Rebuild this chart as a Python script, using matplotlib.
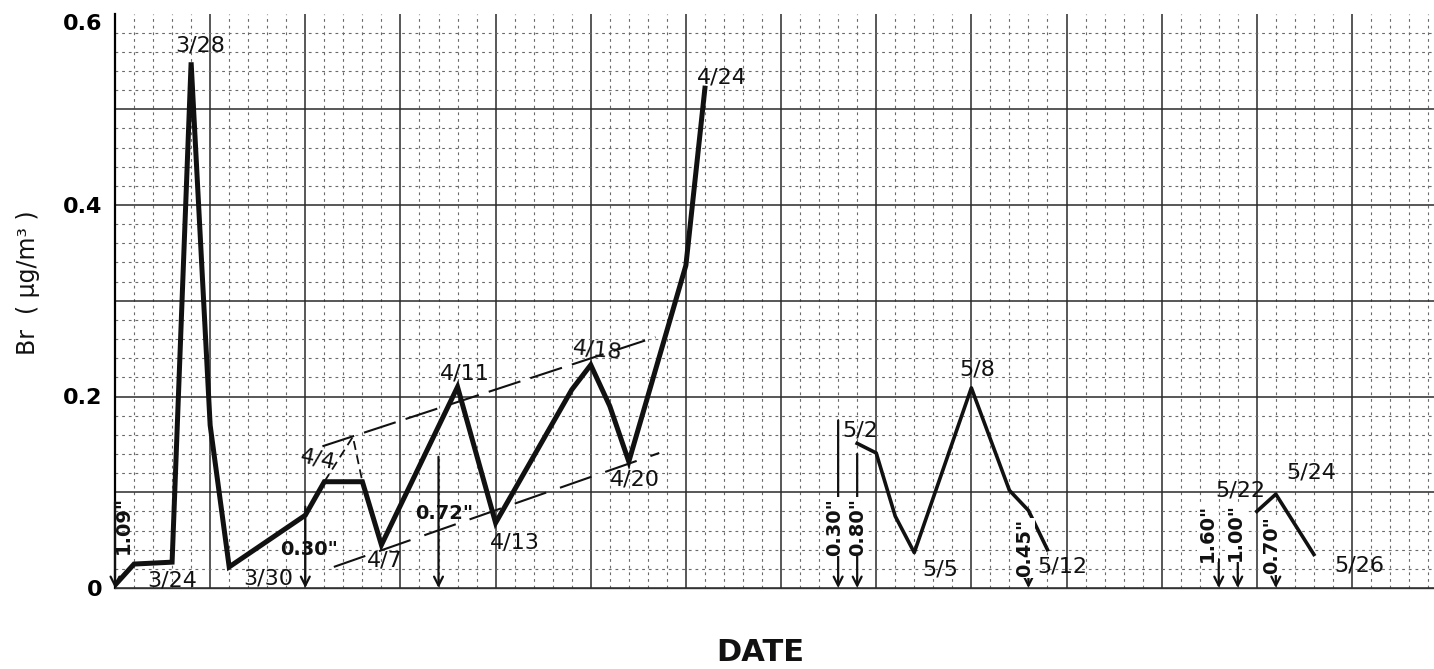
import datetime as dt
import numpy as np
import matplotlib
matplotlib.use("Agg")
import matplotlib.pyplot as plt

# Br concentration (ug/m3), three sampling runs
run1_dates = ["3/24", "3/25", "3/27", "3/28", "3/29", "3/30", "4/3", "4/4", "4/6", "4/7",
              "4/11", "4/13", "4/17", "4/18", "4/19", "4/20", "4/23", "4/24"]
run1_br = [0.003, 0.025, 0.027, 0.549, 0.170, 0.022, 0.076, 0.111, 0.111, 0.045,
           0.210, 0.068, 0.207, 0.233, 0.190, 0.132, 0.337, 0.522]

run2_dates = ["5/2", "5/3", "5/4", "5/5", "5/8", "5/10", "5/11", "5/12"]
run2_br = [0.151, 0.141, 0.075, 0.037, 0.209, 0.102, 0.081, 0.040]

run3_dates = ["5/23", "5/24", "5/26"]
run3_br = [0.080, 0.098, 0.035]

# rainfall events (inches), shown as arrows on the date axis
rain_dates = ["3/24", "4/3", "4/10", "5/1", "5/2", "5/11", "5/21", "5/22", "5/24"]
rain_inches = ["1.09", "0.30", "0.72", "0.30", "0.80", "0.45", "1.60", "1.00", "0.70"]

# dashed envelope lines (days after 3/24, Br)
upper_env_days = [10.9, 28.4]
upper_env_br = [0.148, 0.262]
lower_env_days = [11.5, 28.6]
lower_env_br = [0.022, 0.141]
guess_peak_days = [11.0, 12.5, 13.0]
guess_peak_br = [0.111, 0.158, 0.111]

date_labels = ["3/28", "3/24", "3/30", "4/4", "4/7", "4/11", "4/13", "4/18", "4/20", "4/24",
               "5/2", "5/5", "5/8", "5/12", "5/22", "5/24", "5/26"]

START = dt.date(1975, 3, 24)


def day(s):
    m, d = s.split("/")
    return (dt.date(1975, int(m), int(d)) - START).days


# ---- layout ----
label_pos = [(4.47, 0.567), (3.0, 0.008), (8.04, 0.010), (10.67, 0.134), (14.19, 0.029),
             (18.39, 0.2245), (21.02, 0.048), (25.33, 0.2486), (27.33, 0.113), (31.9, 0.533),
             (39.15, 0.165), (43.35, 0.019), (45.3, 0.228), (49.76, 0.022), (59.12, 0.102),
             (62.85, 0.121), (65.37, 0.024)]
label_rot = [0, 0, 0, -12, 0, 0, 0, -6, 0, 0, 0, 0, 0, 0, 0, 0, 0]

rain_top = [0.09, 0.085, 0.137, 0.175, 0.14, 0.03, 0.03, 0.03, 0.03]
rain_text_pos = [(0.45, 0.066), (10.2, 0.040), (17.3, 0.078), (37.8, 0.064), (39.05, 0.064),
                 (47.8, 0.042), (57.4, 0.058), (58.85, 0.058), (60.8, 0.045)]
rain_rot = [90, 0, 0, 90, 90, 90, 90, 90, 90]
rain_box = [False, False, False, True, True, True, True, True, True]

fig = plt.figure(figsize=(14.34, 6.69), dpi=100)
ax = fig.add_axes([115 / 1434, 81 / 669, 1319 / 1434, 574.5 / 669])

ax.set_xlim(0, 1319 / 19.03)
ax.set_ylim(0, 0.6)

# graph paper grid
ax.set_xticks(np.arange(0, 70, 5))
ax.set_xticks(np.arange(0, 70, 1), minor=True)
ax.set_yticks(np.arange(0, 0.61, 0.1))
ax.set_yticks(np.arange(0, 0.6, 0.02), minor=True)
ax.set_xticklabels([])
ax.set_yticklabels(["0", "", "0.2", "", "0.4", "", "0.6"])
ax.tick_params(which="both", length=0)
ax.tick_params(axis="y", pad=9, labelsize=16)
for t in ax.get_yticklabels():
    t.set_fontweight("bold")
ax.get_yticklabels()[-1].set_va("top")

ax.grid(which="major", color="#2a2a2a", lw=1.1, ls="-")
ax.grid(which="minor", color="#6a6a6a", lw=0.8, ls=(0, (2.5, 3.5)))
ax.get_ygridlines()[-1].set_visible(False)
ax.set_axisbelow(True)

for side in ["top", "right"]:
    ax.spines[side].set_visible(False)
ax.spines["left"].set_linewidth(1.6)
ax.spines["bottom"].set_linewidth(1.0)
ax.spines["bottom"].set_color("#333333")

# concentration curves
ax.plot([day(d) for d in run1_dates], run1_br, color="#111111", lw=3.6,
        solid_joinstyle="miter", zorder=4)
ax.plot([day(d) for d in run2_dates], run2_br, color="#111111", lw=2.6, zorder=4)
ax.plot([day(d) for d in run3_dates], run3_br, color="#111111", lw=2.6, zorder=4)

# dashed envelopes
ax.plot(upper_env_days, upper_env_br, color="#111111", lw=1.5, dashes=(16, 5), zorder=3)
ax.plot(lower_env_days, lower_env_br, color="#111111", lw=1.5, dashes=(16, 7), zorder=3)
ax.plot(guess_peak_days, guess_peak_br, color="#111111", lw=1.3, dashes=(5, 3), zorder=3)

# date labels
for txt, (x, y), r in zip(date_labels, label_pos, label_rot):
    ax.text(x, y, txt, fontsize=16, ha="center", va="center", rotation=r,
            color="#111111", zorder=5)

# rain arrows
for d, amt, top, (tx, ty), r, box in zip(rain_dates, rain_inches, rain_top,
                                         rain_text_pos, rain_rot, rain_box):
    x = day(d)
    ax.annotate("", xy=(x, 0.0), xytext=(x, top),
                arrowprops=dict(arrowstyle="->", lw=1.6, color="#111111",
                                mutation_scale=16, shrinkA=0, shrinkB=0),
                zorder=5, annotation_clip=False)
    kw = {}
    if box:
        kw["bbox"] = dict(facecolor="white", edgecolor="none", pad=0.5)
    ax.text(tx, ty, amt + '"', fontsize=14, fontweight="bold", ha="center",
            va="center", rotation=r, color="#111111", zorder=6, **kw)

fig.text(0.0195, 0.578, "Br  ( μg/m³ )", rotation=90, fontsize=17,
         ha="center", va="center", color="#111111")
fig.text(0.530, 0.0254, "DATE", fontsize=22, fontweight="bold", ha="center",
         va="center", color="#111111")

fig.savefig("out.png", dpi=100)
